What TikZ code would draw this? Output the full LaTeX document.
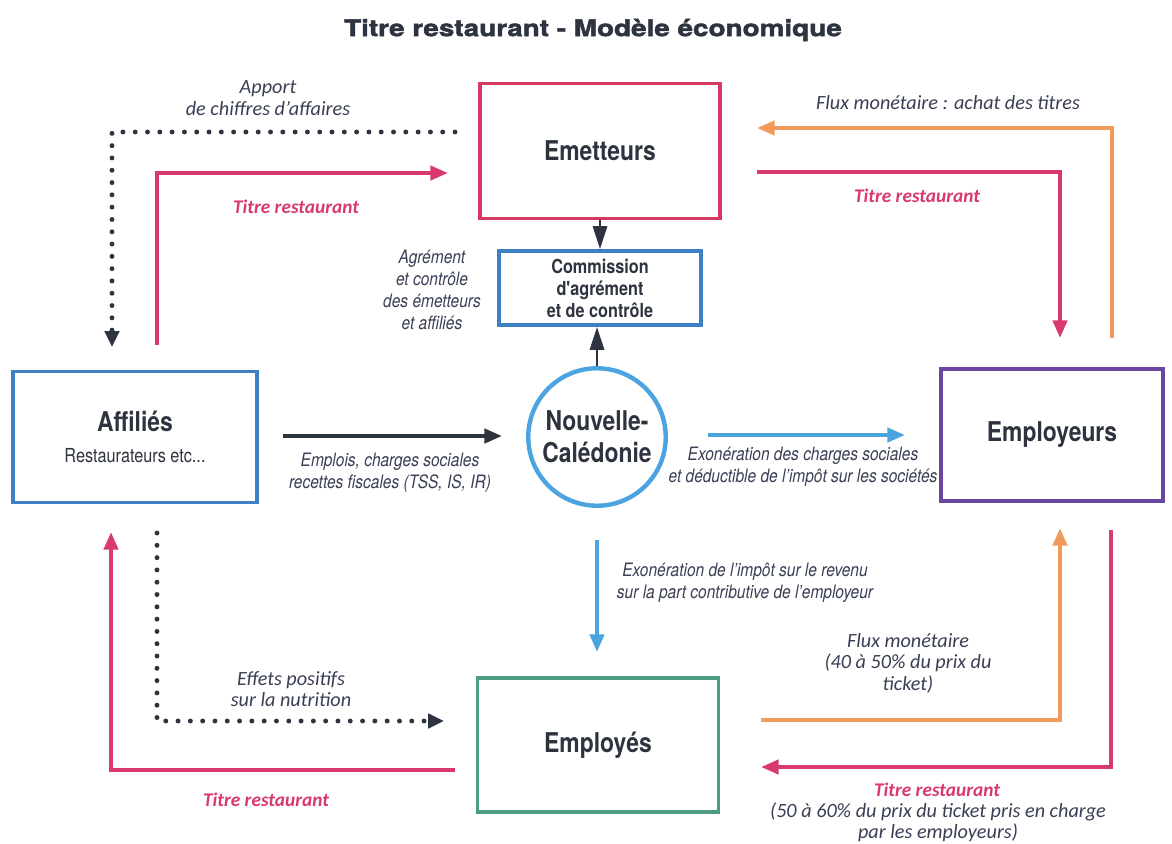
\documentclass[tikz,border=0pt]{standalone}
\usepackage{fontspec}
\setmainfont{TeX Gyre Heros}
\newfontfamily\condfont[FakeStretch=0.84]{TeX Gyre Heros}
\newfontfamily\carlito{Carlito}
\newfontfamily\titlefont[FakeStretch=1.22,BoldFeatures={FakeBold=2}]{TeX Gyre Heros}
\usetikzlibrary{arrows.meta}
\definecolor{pinkc}{HTML}{D93A6E}
\definecolor{redc}{HTML}{D63A64}
\definecolor{boxblue}{HTML}{3F7FC6}
\definecolor{lightblue}{HTML}{4BA3E0}
\definecolor{purplec}{HTML}{6B46A0}
\definecolor{greenc}{HTML}{4E9C80}
\definecolor{orangec}{HTML}{F29A5B}
\definecolor{darkc}{HTML}{2E3340}
\definecolor{txtc}{HTML}{3A3F55}
\begin{document}
\begin{tikzpicture}[x=0.02cm,y=-0.02cm,
  box/.style={draw,line width=2.2pt,inner sep=2pt,align=center,text=darkc,font=\condfont\bfseries\fontsize{15.5}{17}\selectfont},
  flow/.style={line width=2.3pt,-{Triangle[length=10pt,width=8pt]}},
  dots/.style={darkc,line width=2.8pt,line cap=round,dash pattern=on 0pt off 7pt,-{Triangle[length=9pt,width=8pt]}},
  note/.style={font=\condfont\itshape\fontsize{10.5}{12.5}\selectfont,text=txtc,align=center},
  soft/.style={font=\carlito\itshape\fontsize{11.5}{12.2}\selectfont,text=txtc,align=center},
  tr/.style={font=\carlito\bfseries\itshape\fontsize{11}{13}\selectfont,text=pinkc,align=center}]

    \useasboundingbox[fill=white] (0,0) rectangle (1172,843);

    \node[font=\titlefont\bfseries\fontsize{13}{15}\selectfont,text=darkc] (title) at (593,30) {Titre restaurant - Modèle économique};

    \node[box,draw=redc,minimum width=4.8cm,minimum height=2.7cm] (em) at (600,151) {Emetteurs};
    \node[box,draw=boxblue,minimum width=4.05cm,minimum height=1.48cm,font=\condfont\bfseries\fontsize{11}{12.5}\selectfont] (com) at (600,288) {Commission\\d'agrément\\et de contrôle};
    \node[circle,draw=lightblue,line width=2.5pt,minimum size=2.75cm,align=center,text=darkc,font=\condfont\bfseries\fontsize{15.5}{18}\selectfont] (nc) at (597,437) {Nouvelle-\\Calédonie};
    \node[box,draw=boxblue,minimum width=4.88cm,minimum height=2.62cm] (aff) at (135,437) {Affiliés\\[1pt]{\mdseries\fontsize{11}{12}\selectfont Restaurateurs etc...}};
    \node[box,draw=purplec,minimum width=4.45cm,minimum height=2.64cm] (empl) at (1052,435) {Employeurs};
    \node[box,draw=greenc,minimum width=4.82cm,minimum height=2.68cm] (emp) at (598,745) {Employés};

    \draw[darkc,line width=1.5pt,-{Triangle[length=13pt,width=8pt]}] (em) -- (com);
    \draw[darkc,line width=1.5pt,-{Triangle[length=13pt,width=8pt]}] (nc) -- (nc |- com.south);

    \coordinate (a1) at (455,132);
    \coordinate (a2) at (112,347);
    \coordinate (b1) at (157,345);
    \coordinate (b2) at (448,173);
    \coordinate (c1) at (1112,338);
    \coordinate (c2) at (757,128);
    \coordinate (d1) at (757,172);
    \coordinate (d2) at (1060,338);
    \coordinate (e1) at (283,436);
    \coordinate (e2) at (502,436);
    \coordinate (f1) at (708,435);
    \coordinate (f2) at (905,435);
    \coordinate (g1) at (597,540);
    \coordinate (g2) at (597,652);
    \coordinate (h1) at (157,533);
    \coordinate (h2) at (444,721);
    \coordinate (i1) at (455,770);
    \coordinate (i2) at (111,532);
    \coordinate (j1) at (761,720);
    \coordinate (j2) at (1060,528);
    \coordinate (k1) at (1111,530);
    \coordinate (k2) at (761,767);

    \draw[dots] (a1) -| (a2);
    \draw[flow,pinkc] (b1) |- (b2);
    \draw[flow,orangec] (c1) |- (c2);
    \draw[flow,pinkc] (d1) -| (d2);
    \draw[flow,darkc] (e1) -- (e2);
    \draw[flow,lightblue] (f1) -- (f2);
    \draw[flow,lightblue] (g1) -- (g2);
    \draw[dots] (h1) |- (h2);
    \draw[flow,pinkc] (i1) -| (i2);
    \draw[flow,orangec] (j1) -| (j2);
    \draw[flow,pinkc] (k1) |- (k2);

    \node[soft] (l1) at (268,98) {Apport\\de chiffres d’affaires};
    \node[tr] (l2) at (296,207) {Titre restaurant};
    \node[note] (l3) at (432,290) {Agrément\\et contrôle\\des émetteurs\\et affiliés};
    \node[soft] (l4) at (948,103) {Flux monétaire : achat des titres};
    \node[tr] (l5) at (917,196) {Titre restaurant};
    \node[note] (l6) at (390,473) {Emplois, charges sociales\\recettes fiscales (TSS, IS, IR)};
    \node[note] (l7) at (803,467) {Exonération des charges sociales\\et déductible de l’impôt sur les sociétés};
    \node[note] (l8) at (745,583) {Exonération de l’impôt sur le revenu\\sur la part contributive de l’employeur};
    \node[soft] (l9) at (291,689) {Effets positifs\\sur la nutrition};
    \node[tr] (l10) at (266,800) {Titre restaurant};
    \node[soft] (l11) at (908,663) {Flux monétaire\\(40 à 50\% du prix du\\ticket)};
    \node[tr] (l12) at (937,790) {Titre restaurant};
    \node[soft] (l13) at (938,822) {(50 à 60\% du prix du ticket pris en charge\\par les employeurs)};
\end{tikzpicture}
\end{document}
